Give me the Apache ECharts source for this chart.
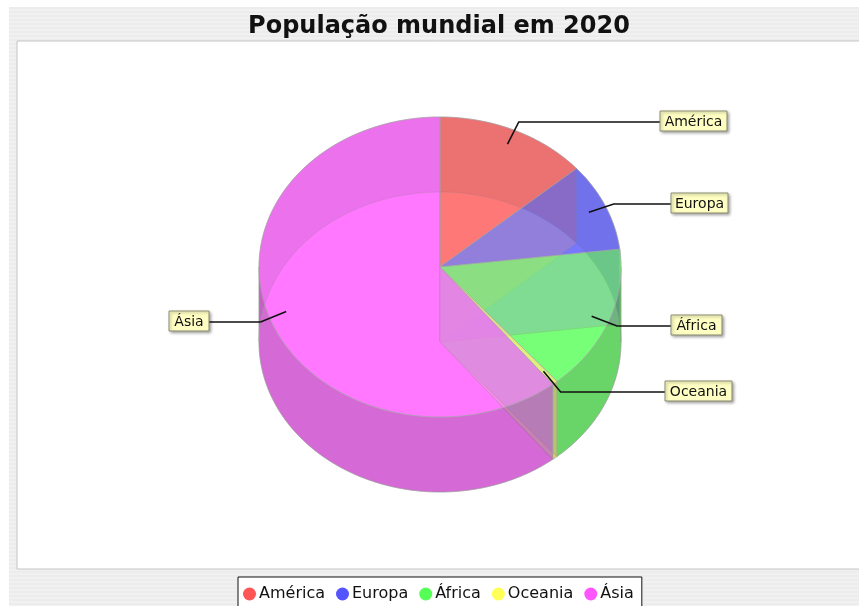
<!DOCTYPE html>
<html>
<head>
<meta charset="utf-8">
<style>
html,body{margin:0;padding:0;background:#fff;overflow:hidden}
#stripes{position:absolute;left:9px;top:7px;right:0;bottom:0;background:repeating-linear-gradient(to bottom,#ececec 0,#ececec 2px,#f1f1f1 2px,#f1f1f1 4px)}
#chart{position:absolute;left:0;top:0;width:859px;height:606px;filter:blur(0.4px)}
</style>
<script src="https://cdn.jsdelivr.net/npm/echarts@6/dist/echarts.min.js"></script>
</head>
<body>
<div id="stripes"></div>
<div id="chart"></div>
<script>
const categories = ['América', 'Europa', 'África', 'Oceania', 'Ásia'];
const shares = [13.6, 9.5, 15.7, 0.5, 60.7];
const sliceColors = ['#FF5555', '#5555FF', '#55FF55', '#FFFF55', '#FF55FF'];

// label box placement (layout only): left edge, top edge, width
const labelBoxes = [[660, 111, 67], [671, 193, 57], [671, 315, 51], [665, 381, 67], [169, 311, 40]];

const CX = 440, CY = 267, RX = 181, RY = 150, DEPTH = 75, LAYER_ALPHA = 0.55;
const FONT = '"DejaVu Sans"';
const total = shares.reduce((a, b) => a + b, 0);

function startAngle(i) {
  let s = 0;
  for (let k = 0; k < i; k++) s += shares[k];
  return s / total * 2 * Math.PI;
}
function pt(t, dy, r) {
  const q = r === undefined ? 1 : r;
  return [CX + q * RX * Math.sin(t), CY + dy - q * RY * Math.cos(t)];
}
function arc(a, b, dy) {
  const n = Math.max(2, Math.ceil((b - a) / 0.01));
  const out = [];
  for (let k = 0; k <= n; k++) out.push(pt(a + (b - a) * k / n, dy));
  return out;
}
function darker(hex) {
  const v = parseInt(hex.slice(1), 16);
  const c = [(v >> 16) & 255, (v >> 8) & 255, v & 255].map(x => Math.round(x * 0.7));
  return 'rgb(' + c.join(',') + ')';
}
function poly(points, fill) {
  return {
    type: 'polygon',
    shape: { points: points },
    style: { fill: fill, stroke: '#a8a8a8', lineWidth: 1, opacity: LAYER_ALPHA, lineJoin: 'round' }
  };
}
function wedge(i, dy) {
  const a = startAngle(i), b = startAngle(i + 1);
  return { type: 'group', children: [poly([[CX, CY + dy]].concat(arc(a, b, dy)), sliceColors[i])] };
}
function radialFace(i) {
  const a = startAngle(i);
  return { type: 'group', children: [poly([[CX, CY], pt(a, 0), pt(a, DEPTH), [CX, CY + DEPTH]], '#C0C0C0')] };
}
function walls(i) {
  const a = startAngle(i), b = startAngle(i + 1);
  const cuts = [a];
  [Math.PI / 2, 3 * Math.PI / 2].forEach(c => { if (c > a && c < b) cuts.push(c); });
  cuts.push(b);
  const kids = [];
  for (let k = 0; k + 1 < cuts.length; k++) {
    kids.push(poly(arc(cuts[k], cuts[k + 1], 0).concat(arc(cuts[k], cuts[k + 1], DEPTH).reverse()), darker(sliceColors[i])));
  }
  return { type: 'group', children: kids };
}
function labelItem(i) {
  const mid = (startAngle(i) + startAngle(i + 1)) / 2;
  const box = labelBoxes[i];
  const h = 20;
  const inner = pt(mid, 0, 0.9), elbow = pt(mid, 0, 1.05);
  const onRight = Math.sin(mid) > 0;
  const end = [onRight ? box[0] : box[0] + box[2], box[1] + h / 2 + 1];
  return {
    type: 'group',
    children: [
      { type: 'polyline', shape: { points: [inner, [elbow[0], end[1]], end] },
        style: { fill: 'none', stroke: '#111', lineWidth: 1.6 } },
      { type: 'rect', shape: { x: box[0], y: box[1], width: box[2], height: h },
        style: { fill: '#FFFFC4', stroke: '#8a8a70', lineWidth: 1, shadowBlur: 3, shadowOffsetX: 1.5, shadowOffsetY: 1.5, shadowColor: 'rgba(0,0,0,0.35)' } },
      { type: 'text', x: box[0] + box[2] / 2, y: box[1] + h / 2 + 1,
        style: { text: categories[i], font: '14px ' + FONT, fill: '#111', align: 'center', verticalAlign: 'middle' } }
    ]
  };
}

const series = [];
[{ z: 3, draw: i => wedge(i, DEPTH) }, { z: 4, draw: radialFace }, { z: 5, draw: walls }, { z: 6, draw: i => wedge(i, 0) }].forEach(layer => {
  categories.forEach((name, i) => {
    series.push({
      type: 'custom', name: name, coordinateSystem: 'none', z: layer.z, silent: true,
      itemStyle: { color: sliceColors[i] },
      data: [shares[i]],
      renderItem: () => layer.draw(i)
    });
  });
});
series.push({
  type: 'custom', name: 'rótulos', coordinateSystem: 'none', z: 8, silent: true,
  data: shares,
  renderItem: params => labelItem(params.dataIndex)
});

const chart = echarts.init(document.getElementById('chart'), null, { renderer: 'canvas' });
chart.setOption({
  animation: false,
  backgroundColor: 'transparent',
  title: {
    text: 'População mundial em 2020', left: 434, top: 10, textAlign: 'center',
    textStyle: { fontFamily: FONT, fontWeight: 'bold', fontSize: 24, color: '#111' }
  },
  legend: {
    data: categories, left: 238, top: 577, orient: 'horizontal',
    icon: 'circle', itemWidth: 13, itemHeight: 13, itemGap: 11,
    padding: [9, 8, 12, 5], selectedMode: false,
    backgroundColor: '#fff', borderColor: '#111', borderWidth: 1, borderRadius: 0,
    textStyle: { fontFamily: FONT, fontSize: 16, color: '#111', padding: [0, 0, 0, -2] }
  },
  graphic: [{
    type: 'rect', z: 0, silent: true,
    shape: { x: 17, y: 41, width: 860, height: 528 },
    style: { fill: '#fff', stroke: '#c4c4c4', lineWidth: 1 }
  }],
  series: series
});
</script>
</body>
</html>
